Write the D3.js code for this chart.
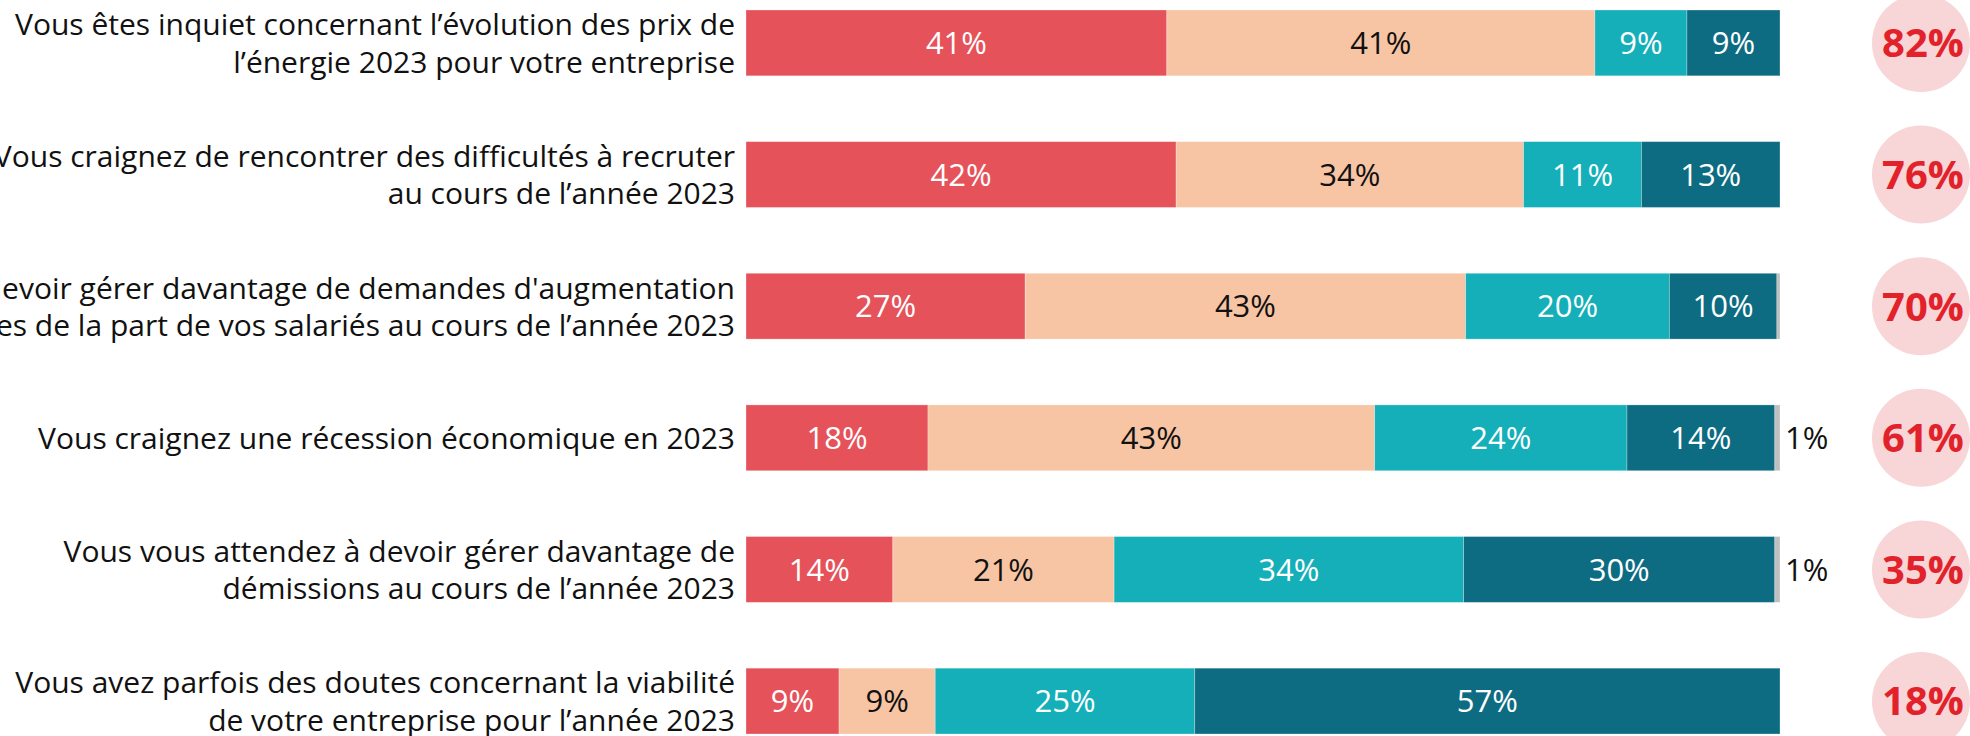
<!DOCTYPE html>
<html>
<head>
<meta charset="utf-8">
<script src="https://cdn.jsdelivr.net/npm/d3@7"></script>
<style>
  html, body { margin: 0; padding: 0; background: #fff; overflow: hidden; }
  svg { display: block; font-family: "Open Sans", "Noto Sans", sans-serif; }
</style>
</head>
<body>
<div id="container"></div>
<script>
// Questions (each split on two lines as in the original)
const questions = [
  ["Vous êtes inquiet concernant l’évolution des prix de", "l’énergie 2023 pour votre entreprise"],
  ["Vous craignez de rencontrer des difficultés à recruter", "au cours de l’année 2023"],
  ["Vous vous attendez à devoir gérer davantage de demandes d'augmentation", "de salaires de la part de vos salariés au cours de l’année 2023"],
  ["Vous craignez une récession économique en 2023"],
  ["Vous vous attendez à devoir gérer davantage de", "démissions au cours de l’année 2023"],
  ["Vous avez parfois des doutes concernant la viabilité", "de votre entreprise pour l’année 2023"]
];

// Answer series (percent; labels are rounded)
const toutAFait   = [40.7, 41.6, 27.0, 17.6, 14.2, 9.0];
const plutot      = [41.4, 33.6, 42.6, 43.2, 21.4, 9.3];
const plutotPas   = [8.9, 11.4, 19.7, 24.4, 33.8, 25.1];
const pasDuTout   = [9.0, 13.4, 10.4, 14.3, 30.1, 56.6];
const nsp         = [0, 0, 0.3, 0.5, 0.5, 0];

// Total "concerned" (tout à fait + plutôt)
const totals = [82, 76, 70, 61, 35, 18];

const seriesKeys = ["toutAFait", "plutot", "plutotPas", "pasDuTout", "nsp"];
const seriesColors = ["#e5525a", "#f7c4a4", "#14afb8", "#0e6c82", "#bfbfbf"];
const labelColors = ["#fff", "#111", "#fff", "#fff", "#111"];

const W = 1970, H = 736;
const barLeft = 746, barRight = 1780;
const labelRight = 735;

const rows = questions.map((q, i) => ({
  id: i,
  toutAFait: toutAFait[i],
  plutot: plutot[i],
  plutotPas: plutotPas[i],
  pasDuTout: pasDuTout[i],
  nsp: nsp[i]
}));

const svg = d3.select("#container").append("svg")
  .attr("width", W)
  .attr("height", H);

const y = d3.scaleBand()
  .domain(rows.map(d => d.id))
  .range([10, 734])
  .paddingInner(0.5)
  .paddingOuter(0);

const x = d3.scaleLinear()
  .domain([0, 1])
  .range([barLeft, barRight]);

const color = d3.scaleOrdinal().domain(seriesKeys).range(seriesColors);
const textColor = d3.scaleOrdinal().domain(seriesKeys).range(labelColors);

const stacked = d3.stack()
  .keys(seriesKeys)
  .offset(d3.stackOffsetExpand)(rows);

// Bars
const layer = svg.selectAll("g.layer")
  .data(stacked)
  .join("g")
  .attr("class", "layer")
  .attr("fill", d => color(d.key));

layer.selectAll("rect")
  .data(d => d)
  .join("rect")
  .attr("x", d => x(d[0]))
  .attr("y", d => y(d.data.id))
  .attr("width", d => Math.max(0, x(d[1]) - x(d[0])))
  .attr("height", y.bandwidth())
  .attr("stroke", "#fff")
  .attr("stroke-opacity", 0.35)
  .attr("stroke-width", 0.8);

// Value labels
const fmt = v => Math.round(v) + "%";

layer.selectAll("text")
  .data(d => d.filter(s => Math.round(s.data[d.key]) > 0).map(s => ({ s, key: d.key })))
  .join("text")
  .attr("x", d => d.key === "nsp" ? x(d.s[1]) + 5 : (x(d.s[0]) + x(d.s[1])) / 2)
  .attr("y", d => y(d.s.data.id) + y.bandwidth() / 2)
  .attr("text-anchor", d => d.key === "nsp" ? "start" : "middle")
  .attr("dy", "0.36em")
  .attr("font-size", 31)
  .attr("fill", d => textColor(d.key))
  .text(d => fmt(d.s.data[d.key]));

// Question labels
const lineGap = 37.5;
const qLabels = svg.append("g").selectAll("text")
  .data(questions)
  .join("text")
  .attr("transform", (d, i) => `translate(${labelRight},${y(i) + y.bandwidth() / 2})`)
  .attr("text-anchor", "end")
  .attr("font-size", 30)
  .attr("fill", "#111");

qLabels.selectAll("tspan")
  .data(d => d.map((line, j) => ({ line, j, n: d.length })))
  .join("tspan")
  .attr("x", 0)
  .attr("y", d => (d.j - (d.n - 1) / 2) * lineGap)
  .attr("dy", "0.37em")
  .text(d => d.line);

// Total bubbles
const bubbleX = 1921;
const bubbles = svg.append("g").selectAll("g")
  .data(totals)
  .join("g")
  .attr("transform", (d, i) => `translate(${bubbleX},${y(i) + y.bandwidth() / 2})`);

bubbles.append("circle")
  .attr("r", 49)
  .attr("fill", "#f8d5d7");

bubbles.append("text")
  .attr("x", 2)
  .attr("text-anchor", "middle")
  .attr("dy", "0.36em")
  .attr("font-size", 40)
  .attr("font-weight", "bold")
  .attr("fill", "#e2222b")
  .text(d => d + "%");
</script>
</body>
</html>
